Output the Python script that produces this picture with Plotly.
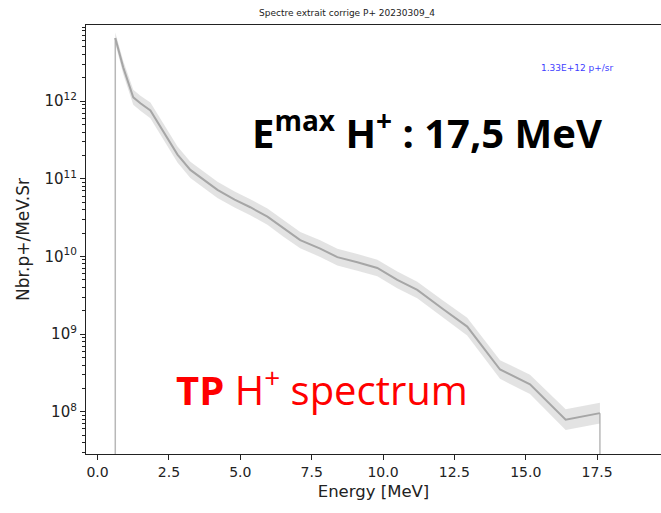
import numpy as np
import plotly.graph_objects as go

# Data (energy in MeV, spectrum in p+/MeV.Sr)
energy = [0.62, 0.9, 1.25, 1.5, 1.85, 2.3, 2.8, 3.25, 3.5, 4.2, 4.8, 5.35, 5.95,
          6.5, 7.1, 7.8, 8.4, 9.1, 9.8, 10.5, 11.2, 12.1, 12.95, 14.1, 15.15, 16.4, 17.6]
spectrum = [6.5e12, 2.7e12, 1.12e12, 9.4e11, 7.6e11, 4.1e11, 2.05e11, 1.3e11, 1.12e11, 7.2e10,
            5.4e10, 4.3e10, 3.25e10, 2.3e10, 1.62e10, 1.26e10, 9.8e9, 8.4e9, 7.1e9, 5.0e9,
            3.7e9, 2.1e9, 1.25e9, 3.5e8, 2.25e8, 7.9e7, 9.6e7]
rel_err = [0.18, 0.22, 0.25, 0.25, 0.26, 0.26, 0.27, 0.27, 0.27, 0.27, 0.27, 0.27, 0.27,
           0.27, 0.27, 0.28, 0.28, 0.28, 0.28, 0.28, 0.28, 0.29, 0.30, 0.32, 0.33, 0.36, 0.36]
edge_low = 1e6  # spectrum drops to ~0 outside the measured window

title_text = "Spectre extrait corrige P+ 20230309_4"
total_text = "1.33E+12 p+/sr"
y_tick_vals = [1e8, 1e9, 1e10, 1e11, 1e12]
y_tick_text = ["10<sup>8</sup>", "10<sup>9</sup>", "10<sup>10</sup>", "10<sup>11</sup>", "10<sup>12</sup>"]
x_tick_vals = [0.0, 2.5, 5.0, 7.5, 10.0, 12.5, 15.0, 17.5]

e = np.array(energy)
s = np.array(spectrum)
r = np.array(rel_err)
upper = s * (1 + r)
lower = s / (1 + r)

fig = go.Figure()
# uncertainty band
fig.add_trace(go.Scatter(x=np.concatenate([e, e[::-1]]), y=np.concatenate([upper, lower[::-1]]),
                         fill="toself", fillcolor="rgba(200,200,200,0.5)", line=dict(width=0),
                         mode="lines", hoverinfo="skip", showlegend=False))
# window edges
fig.add_trace(go.Scatter(x=[e[0], e[0]], y=[edge_low, s[0]], mode="lines",
                         line=dict(color="rgba(160,160,160,0.75)", width=1.5), showlegend=False))
fig.add_trace(go.Scatter(x=[e[-1], e[-1]], y=[s[-1], edge_low], mode="lines",
                         line=dict(color="rgba(160,160,160,0.75)", width=1.5), showlegend=False))
# spectrum
fig.add_trace(go.Scatter(x=e, y=s, mode="lines", line=dict(color="#a6a6a6", width=2),
                         showlegend=False))

minor_vals = [k * 10.0 ** n for n in range(7, 13) for k in range(2, 10)]

fig.update_layout(
    width=661, height=513,
    margin=dict(l=86, r=0, t=25, b=59),
    plot_bgcolor="white", paper_bgcolor="white",
    font=dict(family="DejaVu Sans", color="#222"),
    annotations=[
        dict(text=title_text, xref="paper", yref="paper", x=0.454, y=1, yshift=5,
             xanchor="center", yanchor="bottom", showarrow=False,
             font=dict(size=9, family="DejaVu Sans", color="#222")),
        dict(text=total_text, xref="paper", yref="paper", x=0.855, y=0.9, xanchor="center",
             yanchor="middle", showarrow=False, font=dict(size=9, color="#4040ff")),
        dict(text="E<sup>max</sup> H<sup>+</sup> : 17,5 MeV", xref="paper", yref="paper",
             x=0.593, y=0.755, xanchor="center", yanchor="middle", showarrow=False,
             font=dict(size=40, family="Open Sans", color="black", weight="bold")),
        dict(text="<b>TP</b> H<sup>+</sup> spectrum", xref="paper", yref="paper",
             x=0.411, y=0.154, xanchor="center", yanchor="middle", showarrow=False,
             font=dict(size=40, family="Open Sans", color="red")),
    ],
    xaxis=dict(range=[-0.406, 19.74], tickvals=x_tick_vals, tickformat=".1f",
               ticks="outside", ticklen=5, tickcolor="#222", showline=True, linecolor="#222",
               linewidth=1.2, mirror=True, showgrid=False, zeroline=False,
               tickfont=dict(size=14),
               title=dict(text="Energy [MeV]", font=dict(size=16.5), standoff=6)),
    yaxis=dict(type="log", range=[7.456, 12.98], tickvals=y_tick_vals, ticktext=y_tick_text,
               ticks="outside", ticklen=5, tickcolor="#222", showline=True, linecolor="#222",
               linewidth=1.2, mirror=False, showgrid=False, zeroline=False,
               tickfont=dict(size=15),
               minor=dict(tickvals=minor_vals, ticks="outside", ticklen=2.5, tickcolor="#222"),
               title=dict(text="Nbr.p+/MeV.Sr", font=dict(size=17), standoff=10)),
)

fig.write_html("out.html")
